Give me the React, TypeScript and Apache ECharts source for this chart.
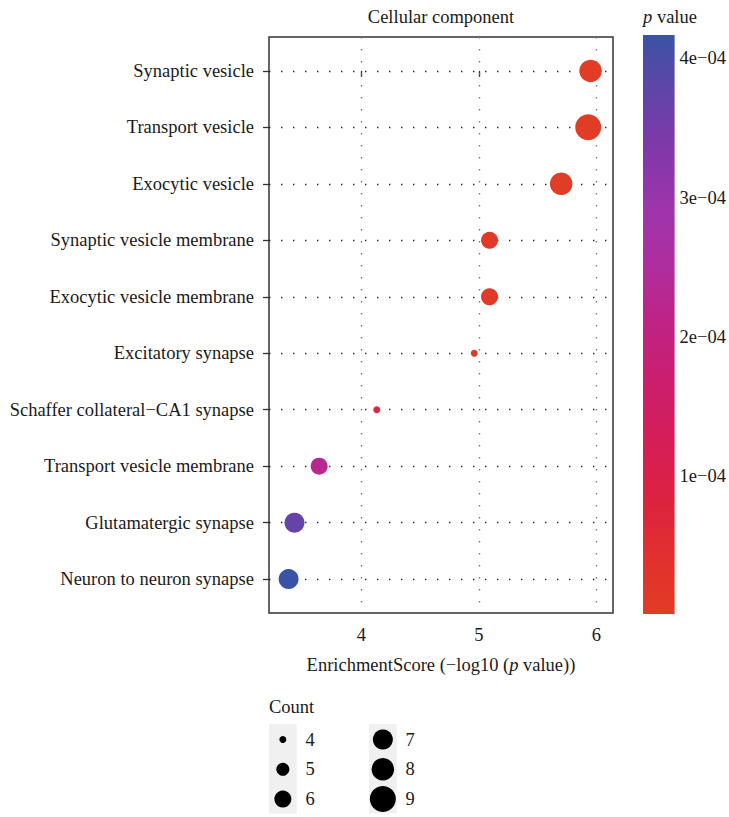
import React, { useEffect, useRef } from 'react';
import * as echarts from 'echarts';

// ---- data ----
const terms = [
  'Synaptic vesicle',
  'Transport vesicle',
  'Exocytic vesicle',
  'Synaptic vesicle membrane',
  'Exocytic vesicle membrane',
  'Excitatory synapse',
  'Schaffer collateral\u2212CA1 synapse',
  'Transport vesicle membrane',
  'Glutamatergic synapse',
  'Neuron to neuron synapse',
];
const enrichmentScore = [5.95, 5.93, 5.7, 5.09, 5.09, 4.96, 4.13, 3.64, 3.43, 3.38];
const geneCount = [8, 9, 8, 6, 6, 4, 4, 6, 7, 7];
const xTicks = [4, 5, 6];
const pTicks = [1e-4, 2e-4, 3e-4, 4e-4];
const countBreaks = [4, 5, 6, 7, 8, 9];

// ---- styles ----
const colorStops = [
  '#E13C26', '#E1302F', '#DC2240', '#D51E58', '#CB1E6E', '#BF2383',
  '#B02D9E', '#9E35AC', '#8138A9', '#6244A8', '#3953A5',
];
const sizeByCount: Record<number, number> = { 4: 7, 5: 13, 6: 17, 7: 20, 8: 22.5, 9: 26 };
const FONT = 'Liberation Serif';
const FS = 18.5;
const TXT = '#1a1a1a';

const fmtP = (v: number) => {
  const [m, e] = v.toExponential(0).split('e');
  const n = Number(e);
  return `${m}e${n < 0 ? '\u2212' : '+'}${String(Math.abs(n)).padStart(2, '0')}`;
};

export default function App() {
  const ref = useRef<HTMLDivElement>(null);
  useEffect(() => {
    const chart = echarts.init(ref.current!, null, { renderer: 'svg' });
    const pValues = enrichmentScore.map((s) => Math.pow(10, -s));
    const pMin = Math.min(...pValues);
    const pMax = Math.max(...pValues);
    const points = enrichmentScore.map((s, i) => [s, i, pValues[i], geneCount[i]]);
    const gradient = new echarts.graphic.LinearGradient(
      0, 1, 0, 0,
      colorStops.map((c, i) => ({ offset: i / (colorStops.length - 1), color: c }))
    );

    const legendEls: any[] = [
      {
        type: 'text', x: 269, y: 707,
        style: { text: 'Count', fontFamily: FONT, fontSize: FS, fill: TXT, verticalAlign: 'middle' },
      },
    ];
    countBreaks.forEach((c, i) => {
      const col = Math.floor(i / 3);
      const row = i % 3;
      const x0 = 269 + col * 100;
      const yc = 739.5 + row * 29.8;
      if (row === 0) {
        legendEls.push({
          type: 'rect', shape: { x: x0, y: 724, width: 27.7, height: 89.4 },
          style: { fill: '#F0F0F0' },
        });
      }
      legendEls.push({
        type: 'circle', shape: { cx: x0 + 13.85, cy: yc, r: sizeByCount[c] / 2 },
        style: { fill: '#000' }, z: 101,
      });
      legendEls.push({
        type: 'text', x: x0 + 36.5, y: yc,
        style: { text: String(c), fontFamily: FONT, fontSize: FS, fill: TXT, verticalAlign: 'middle' },
        z: 101,
      });
    });

    chart.setOption({
      animation: false,
      backgroundColor: '#fff',
      grid: [
        { left: 269, right: 116, top: 37, bottom: 204, show: true, borderColor: '#333', borderWidth: 1.5, backgroundColor: 'transparent' },
        { left: 643, width: 32, top: 35, bottom: 203 },
      ],
      xAxis: [
        {
          type: 'value', gridIndex: 0, min: 3.213, max: 6.141,
          axisLine: { show: false },
          axisTick: { show: true, customValues: xTicks, length: 6, lineStyle: { color: '#333', width: 1.3 } },
          axisLabel: { customValues: xTicks, margin: 12, color: TXT, fontFamily: FONT, fontSize: FS },
          splitLine: { show: false },
          name: 'EnrichmentScore (\u2212log10 ({i|p} value))',
          nameLocation: 'middle', nameGap: 42,
          nameTextStyle: {
            color: TXT, fontFamily: FONT, fontSize: FS,
            rich: { i: { fontStyle: 'italic', fontFamily: FONT, fontSize: FS, color: TXT } },
          },
        },
        { type: 'category', gridIndex: 1, data: ['p'], show: false },
      ],
      yAxis: [
        {
          type: 'value', gridIndex: 0, inverse: true, min: -0.6, max: 9.6,
          axisLine: { show: false },
          axisTick: { show: true, customValues: terms.map((_, i) => i), length: 6, lineStyle: { color: '#333', width: 1.3 } },
          axisLabel: {
            customValues: terms.map((_, i) => i),
            formatter: (v: number) => terms[Math.round(v)] ?? '',
            margin: 15, color: TXT, fontFamily: FONT, fontSize: FS,
          },
          splitLine: { show: false },
        },
        {
          type: 'value', gridIndex: 1, min: pMin, max: pMax, position: 'right',
          axisLine: { show: false },
          axisTick: { show: true, inside: true, customValues: pTicks, length: 6, lineStyle: { color: '#fff', width: 1.5 } },
          axisLabel: { customValues: pTicks, formatter: fmtP, margin: 5, color: TXT, fontFamily: FONT, fontSize: FS },
          splitLine: { show: false },
        },
        {
          type: 'value', gridIndex: 1, min: pMin, max: pMax, position: 'left',
          axisLine: { show: false },
          axisTick: { show: true, inside: true, customValues: pTicks, length: 6, lineStyle: { color: '#fff', width: 1.5 } },
          axisLabel: { show: false },
          splitLine: { show: false },
        },
      ],
      visualMap: [
        {
          type: 'continuous', show: false, seriesIndex: 0, dimension: 2,
          min: pMin, max: pMax, inRange: { color: colorStops },
        },
      ],
      series: [
        {
          type: 'scatter', xAxisIndex: 0, yAxisIndex: 0, z: 10,
          data: points,
          symbolSize: (v: number[]) => sizeByCount[v[3]],
          itemStyle: { opacity: 1 },
        },
        {
          type: 'line', xAxisIndex: 0, yAxisIndex: 0, data: [], z: 1,
          markLine: {
            silent: true, symbol: ['none', 'none'], label: { show: false },
            lineStyle: { type: [1.4, 10.6], width: 1.4 },
            data: [
              ...xTicks.map((x) => ({ xAxis: x, lineStyle: { color: '#777', type: [1.4, 10.6], width: 1.4 } })),
              ...terms.map((_, i) => ({ yAxis: i, lineStyle: { color: '#222', type: [1.4, 10.6], width: 1.4 } })),
            ],
          },
        },
        {
          type: 'bar', xAxisIndex: 1, yAxisIndex: 1, data: [pMax], barWidth: '100%',
          itemStyle: { color: gradient }, silent: true,
        },
      ],
      graphic: [
        {
          type: 'text', x: 441, y: 17,
          style: { text: 'Cellular component', fontFamily: FONT, fontSize: FS, fill: TXT, align: 'center', verticalAlign: 'middle' },
        },
        {
          type: 'text', x: 643, y: 17,
          style: {
            text: '{i|p} value', fontFamily: FONT, fontSize: FS, fill: TXT, verticalAlign: 'middle',
            rich: { i: { fontStyle: 'italic', fontFamily: FONT, fontSize: FS, fill: TXT } },
          },
        },
        ...legendEls,
      ],
    });
    return () => chart.dispose();
  }, []);
  return <div ref={ref} style={{ position: 'fixed', left: 0, top: 0, width: 729, height: 817 }} />;
}
